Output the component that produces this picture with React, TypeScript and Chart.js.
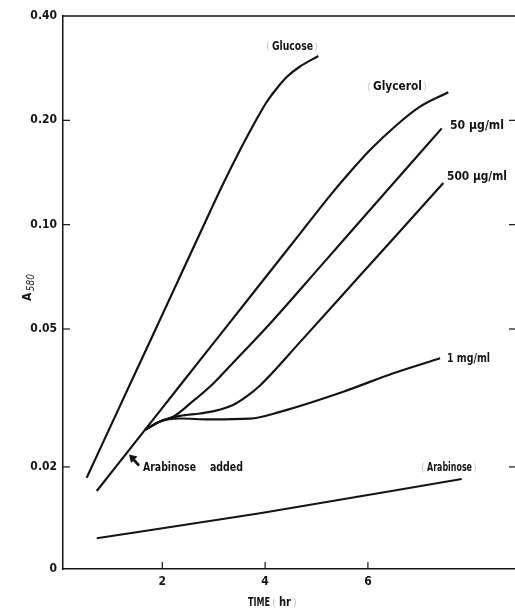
import React, { useEffect, useRef } from 'react';
import { Chart, registerables } from 'chart.js';

Chart.register(...registerables);

// ---- data (time in hr, absorbance A580) ----
const glucoseX = [0.529, 1.177, 1.761, 2.344, 2.928, 3.156, 3.512, 3.804, 4.031, 4.226, 4.42, 4.679, 5.035];
const glucoseY = [0.01862, 0.03, 0.04611, 0.07086, 0.109, 0.1287, 0.1642, 0.1978, 0.2259, 0.2471, 0.2667, 0.286, 0.3066];

const glycerolX = [0.724, 1.663, 2.344, 3.123, 3.901, 4.679, 5.263, 5.652, 6.041, 6.56, 7.014, 7.564];
const glycerolY = [0.01704, 0.02558, 0.03435, 0.04808, 0.06729, 0.09422, 0.1213, 0.1419, 0.1642, 0.1939, 0.219, 0.2409];

const ug50X = [1.663, 1.955, 2.214, 2.578, 2.961, 3.317, 4.16, 5.068, 6.235, 7.436];
const ug50Y = [0.02558, 0.02705, 0.02792, 0.03079, 0.03447, 0.03911, 0.0531, 0.07554, 0.11891, 0.1896];

const ug500X = [1.663, 1.955, 2.344, 2.733, 3.025, 3.375, 3.628, 3.901, 4.679, 5.846, 6.624, 7.467];
const ug500Y = [0.02558, 0.02705, 0.02806, 0.02852, 0.02901, 0.03019, 0.03184, 0.03435, 0.04582, 0.0713, 0.09576, 0.1318];

const mg1X = [1.663, 1.955, 2.344, 2.928, 3.706, 4.29, 5.521, 6.494, 7.403];
const mg1Y = [0.02558, 0.02705, 0.02759, 0.02741, 0.02755, 0.02884, 0.03296, 0.03726, 0.04116];

const arabinoseX = [0.724, 3.901, 7.825];
const arabinoseY = [0.01245, 0.0147, 0.01846];

const xTicks = [2, 4, 6];
const yTicks = [0.01015, 0.02, 0.05, 0.1, 0.2, 0.4];
const yTickLabels = ['0', '0.02', '0.05', '0.10', '0.20', '0.40'];
const rightTicks = [0.02, 0.05, 0.1, 0.2];

const X_MIN = 0.068;
const X_MAX = 8.842;
const Y_MIN = 0.01015;
const Y_MAX = 0.4;

const FONT = "'Liberation Sans Narrow', 'DejaVu Sans Condensed', 'Liberation Sans', sans-serif";
const INK = '#141414';

const pts = (xs: number[], ys: number[]) => xs.map((x, i) => ({ x, y: ys[i] }));

function drawFit(ctx: CanvasRenderingContext2D, text: string, left: number, cy: number, width: number, font: string, color = INK) {
  ctx.save();
  ctx.font = font;
  ctx.fillStyle = color;
  ctx.textBaseline = 'middle';
  ctx.textAlign = 'left';
  const m = ctx.measureText(text).width || 1;
  ctx.translate(left, cy);
  ctx.scale(width / m, 1);
  ctx.fillText(text, 0, 0);
  ctx.restore();
}

function paren(ctx: CanvasRenderingContext2D, ch: string, x: number, cy: number) {
  ctx.save();
  ctx.font = `11px ${FONT}`;
  ctx.fillStyle = '#c8c8c8';
  ctx.textBaseline = 'middle';
  ctx.textAlign = 'center';
  ctx.fillText(ch, x, cy);
  ctx.restore();
}

const extras = {
  id: 'extras',
  afterDraw(chart: any) {
    const { ctx, chartArea: a, scales } = chart;
    const x = scales.x;
    const y = scales.y;
    ctx.save();
    ctx.strokeStyle = INK;
    ctx.lineWidth = 1.3;
    ctx.beginPath();
    ctx.moveTo(a.left, a.top);
    ctx.lineTo(chart.width, a.top);
    ctx.stroke();
    // inward ticks
    ctx.lineWidth = 1.2;
    yTicks.slice(1, -1).forEach((v) => {
      const py = y.getPixelForValue(v);
      ctx.beginPath();
      ctx.moveTo(a.left, py);
      ctx.lineTo(a.left + 7, py);
      ctx.stroke();
    });
    rightTicks.forEach((v) => {
      const py = y.getPixelForValue(v);
      ctx.beginPath();
      ctx.moveTo(a.right - 5, py);
      ctx.lineTo(a.right + 1, py);
      ctx.stroke();
    });
    xTicks.forEach((v) => {
      const px = x.getPixelForValue(v);
      ctx.beginPath();
      ctx.moveTo(px, a.bottom);
      ctx.lineTo(px, a.bottom - 7);
      ctx.stroke();
    });
    ctx.restore();

    // y title A580
    ctx.save();
    ctx.fillStyle = INK;
    ctx.translate(31, 301);
    ctx.rotate(-Math.PI / 2);
    ctx.textBaseline = 'alphabetic';
    ctx.font = `bold 12px ${FONT}`;
    ctx.fillText('A', 0, 0);
    const aw = ctx.measureText('A').width;
    ctx.font = `italic 10px ${FONT}`;
    ctx.fillText('580', aw + 1.5, 3);
    ctx.restore();

    // x title
    drawFit(ctx, 'TIME', 248, 603, 22, `bold 12px ${FONT}`);
    paren(ctx, '(', 274, 603);
    drawFit(ctx, 'hr', 279, 603, 12, `bold 12px ${FONT}`);
    paren(ctx, ')', 295, 603);

    // curve labels
    paren(ctx, '(', 268, 46);
    drawFit(ctx, 'Glucose', 272, 47, 41, `bold 12px ${FONT}`);
    paren(ctx, ')', 316, 47);

    paren(ctx, '(', 369, 87);
    drawFit(ctx, 'Glycerol', 373, 87, 49, `bold 12px ${FONT}`);
    paren(ctx, ')', 425, 87);

    drawFit(ctx, '50 µg/ml', 450, 126, 54, `bold 12px ${FONT}`);
    drawFit(ctx, '500 µg/ml', 447, 177, 60, `bold 12px ${FONT}`);
    drawFit(ctx, '1 mg/ml', 447, 359, 43, `bold 12px ${FONT}`);

    drawFit(ctx, 'Arabinose', 143, 468, 53, `bold 12px ${FONT}`);
    drawFit(ctx, 'added', 210, 468, 33, `bold 12px ${FONT}`);

    paren(ctx, '(', 423, 468);
    drawFit(ctx, 'Arabinose', 427, 468, 45, `bold 12px ${FONT}`);
    paren(ctx, ')', 475, 468);

    // arrow for "Arabinose added"
    ctx.save();
    ctx.fillStyle = INK;
    ctx.strokeStyle = INK;
    ctx.lineWidth = 2.6;
    ctx.beginPath();
    ctx.moveTo(133, 459);
    ctx.lineTo(139, 465.5);
    ctx.stroke();
    ctx.beginPath();
    ctx.moveTo(129, 454.5);
    ctx.lineTo(137.5, 456.5);
    ctx.lineTo(131, 463);
    ctx.closePath();
    ctx.fill();
    ctx.restore();
  },
};

export default function App() {
  const ref = useRef<HTMLCanvasElement | null>(null);

  useEffect(() => {
    if (!ref.current) return;
    const line = (data: { x: number; y: number }[]) => ({
      data,
      borderColor: INK,
      borderWidth: 2.2,
      pointRadius: 0,
      fill: false,
      cubicInterpolationMode: 'monotone' as const,
    });
    const tickFont = { family: FONT, size: 12, weight: 'bold' as const };
    const chart = new Chart(ref.current, {
      type: 'line',
      data: {
        datasets: [
          { label: 'Glucose', ...line(pts(glucoseX, glucoseY)) },
          { label: 'Glycerol', ...line(pts(glycerolX, glycerolY)) },
          { label: '50 µg/ml', ...line(pts(ug50X, ug50Y)) },
          { label: '500 µg/ml', ...line(pts(ug500X, ug500Y)) },
          { label: '1 mg/ml', ...line(pts(mg1X, mg1Y)) },
          { label: 'Arabinose', ...line(pts(arabinoseX, arabinoseY)) },
        ],
      },
      options: {
        animation: false,
        responsive: false,
        maintainAspectRatio: false,
        layout: { padding: { top: 16, right: 1, left: 0, bottom: 0 } },
        plugins: { legend: { display: false }, tooltip: { enabled: false } },
        scales: {
          x: {
            type: 'linear',
            min: X_MIN,
            max: X_MAX,
            afterBuildTicks: (s: any) => {
              s.ticks = xTicks.map((v) => ({ value: v }));
            },
            afterFit: (s: any) => {
              s.height = 41;
            },
            grid: { drawOnChartArea: false, drawTicks: false },
            border: { color: INK, width: 1.5 },
            ticks: {
              autoSkip: false,
              maxRotation: 0,
              padding: 6,
              color: INK,
              font: tickFont,
              callback: (v: any) => String(v),
            },
          },
          y: {
            type: 'logarithmic',
            min: Y_MIN,
            max: Y_MAX,
            afterBuildTicks: (s: any) => {
              s.ticks = yTicks.map((v) => ({ value: v }));
            },
            afterFit: (s: any) => {
              s.width = 63;
            },
            grid: { drawOnChartArea: false, drawTicks: false },
            border: { color: INK, width: 1.5 },
            ticks: {
              autoSkip: false,
              padding: 6,
              color: INK,
              font: tickFont,
              callback: (_v: any, i: number) => yTickLabels[i],
            },
          },
        },
      },
      plugins: [extras],
    });
    return () => chart.destroy();
  }, []);

  return (
    <canvas
      ref={ref}
      width={515}
      height={610}
      style={{ position: 'absolute', left: 0, top: 0, width: 515, height: 610, background: '#fff' }}
    />
  );
}
